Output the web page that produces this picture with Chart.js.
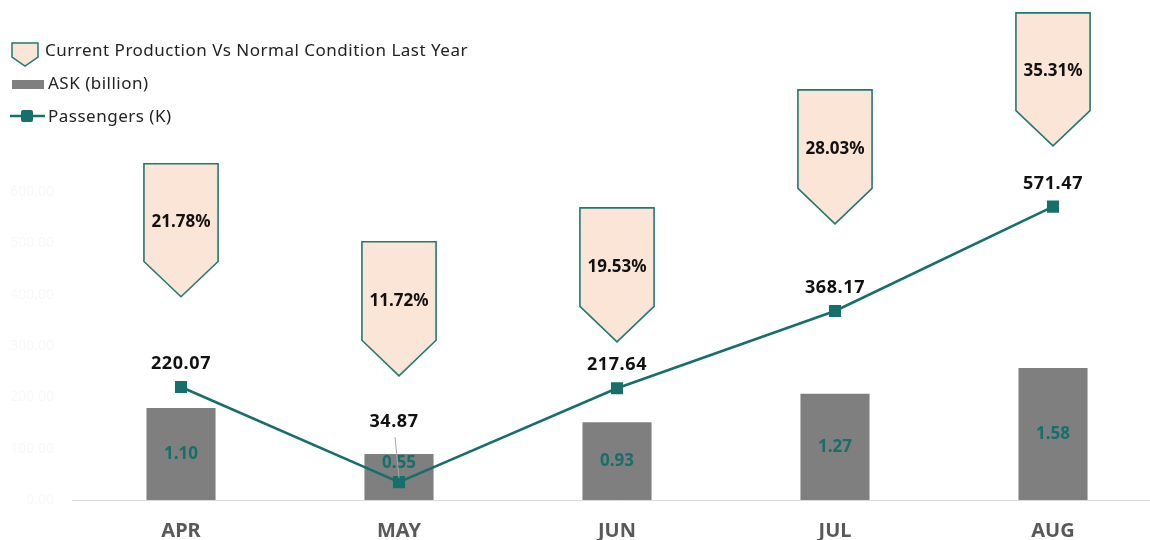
<!DOCTYPE html>
<html><head><meta charset="utf-8">
<script src="https://cdn.jsdelivr.net/npm/chart.js@4.4.0/dist/chart.umd.min.js"></script>
<style>html,body{margin:0;padding:0;background:#fff;overflow:hidden;}
#c{display:block;}
</style></head><body><canvas id="c" width="1171" height="540" style="width:1171px;height:540px"></canvas>
<script>
// ---- data ----
const months = ['APR', 'MAY', 'JUN', 'JUL', 'AUG'];
const askBillion = [1.10, 0.55, 0.93, 1.27, 1.58];
const passengersK = [220.07, 34.87, 217.64, 368.17, 571.47];
const vsLastYearPct = [21.78, 11.72, 19.53, 28.03, 35.31];
// callout (pentagon) extent, in passenger-axis units, as placed in the original
const calloutTop = [655, 503, 569, 799, 949];
const calloutTip = [396, 242, 308, 538, 690];
const passengerTicks = [0, 100, 200, 300, 400, 500, 600];
const seriesNames = ['Current Production Vs Normal Condition Last Year', 'ASK (billion)', 'Passengers (K)'];

const FONT = '"Noto Sans", sans-serif';
const TEAL = '#166f6a';
const PENT_FILL = '#fbe5d6';
const PENT_STROKE = '#1f7a72';
const BAR_GREY = '#7f7f7f';

function pentagon(ctx, x, top, w, shoulder, tip) {
  ctx.beginPath();
  ctx.moveTo(x - w / 2, top);
  ctx.lineTo(x + w / 2, top);
  ctx.lineTo(x + w / 2, shoulder);
  ctx.lineTo(x, tip);
  ctx.lineTo(x - w / 2, shoulder);
  ctx.closePath();
}

const overlay = {
  id: 'overlay',
  afterDraw(chart) {
    const ctx = chart.ctx;
    ctx.save();
    // callouts
    const cMeta = chart.getDatasetMeta(2);
    cMeta.data.forEach((el, i) => {
      const p = el.getProps(['x', 'y', 'base', 'width'], true);
      const top = Math.min(p.y, p.base), tip = Math.max(p.y, p.base);
      const h = tip - top;
      pentagon(ctx, p.x, top, p.width, top + h * 0.735, tip);
      ctx.fillStyle = PENT_FILL; ctx.fill();
      ctx.lineWidth = 1.6; ctx.strokeStyle = PENT_STROKE; ctx.lineJoin = 'miter'; ctx.stroke();
      ctx.fillStyle = '#111';
      ctx.font = 'bold 17px ' + FONT;
      ctx.textAlign = 'center'; ctx.textBaseline = 'middle';
      ctx.fillText(vsLastYearPct[i].toFixed(2) + '%', p.x, top + h * 0.44);
    });
    // bar labels
    const bMeta = chart.getDatasetMeta(0);
    bMeta.data.forEach((el, i) => {
      const p = el.getProps(['x', 'y', 'base'], true);
      let y = (p.y + p.base) / 2;
      if (i === 1) y -= 14;
      ctx.fillStyle = TEAL;
      ctx.font = 'bold 17px ' + FONT;
      ctx.textAlign = 'center'; ctx.textBaseline = 'middle';
      ctx.fillText(askBillion[i].toFixed(2), p.x, y);
    });
    // line labels
    const lMeta = chart.getDatasetMeta(1);
    if ('letterSpacing' in ctx) ctx.letterSpacing = '0.6px';
    lMeta.data.forEach((el, i) => {
      const p = el.getProps(['x', 'y'], true);
      let lx = p.x, ly = p.y - 23;
      if (i === 1) {
        lx = p.x - 5; ly = p.y - 60;
        ctx.beginPath();
        ctx.moveTo(lx + 1, ly + 15);
        ctx.lineTo(p.x, p.y - 4);
        ctx.lineWidth = 1; ctx.strokeStyle = '#a6a6a6'; ctx.stroke();
      }
      ctx.fillStyle = '#111';
      ctx.font = 'bold 18px ' + FONT;
      ctx.textAlign = 'center'; ctx.textBaseline = 'middle';
      ctx.fillText(passengersK[i].toFixed(2), lx, ly);
    });
    // legend
    if ('letterSpacing' in ctx) ctx.letterSpacing = '0.5px';
    ctx.font = '17px ' + FONT;
    ctx.textAlign = 'left'; ctx.textBaseline = 'middle';
    pentagon(ctx, 25, 43, 26, 57, 66);
    ctx.fillStyle = PENT_FILL; ctx.fill();
    ctx.lineWidth = 1.5; ctx.strokeStyle = PENT_STROKE; ctx.stroke();
    ctx.fillStyle = '#222';
    ctx.fillText(seriesNames[0], 45, 51);
    ctx.fillStyle = BAR_GREY;
    ctx.fillRect(12, 80, 32, 9);
    ctx.fillStyle = '#222';
    ctx.fillText(seriesNames[1], 48, 84);
    ctx.beginPath(); ctx.moveTo(10, 116); ctx.lineTo(45, 116);
    ctx.lineWidth = 2.5; ctx.strokeStyle = TEAL; ctx.stroke();
    ctx.fillStyle = TEAL;
    ctx.beginPath();
    if (ctx.roundRect) ctx.roundRect(21, 110, 12, 12, 2); else ctx.rect(21, 110, 12, 12);
    ctx.fill();
    ctx.fillStyle = '#222';
    ctx.fillText(seriesNames[2], 48, 117);
    ctx.restore();
  }
};

new Chart(document.getElementById('c'), {
  data: {
    labels: months,
    datasets: [
      {
        type: 'bar', label: seriesNames[1], data: askBillion, yAxisID: 'y1',
        backgroundColor: BAR_GREY, barPercentage: 0.317, categoryPercentage: 1,
        grouped: false, order: 3
      },
      {
        type: 'line', label: seriesNames[2], data: passengersK, yAxisID: 'y',
        borderColor: TEAL, borderWidth: 2.6, pointStyle: 'rect', pointRadius: 7.5,
        pointBackgroundColor: TEAL, pointBorderColor: TEAL, pointBorderWidth: 1.5,
        tension: 0, order: 1
      },
      {
        type: 'bar', label: seriesNames[0],
        data: calloutTip.map((t, i) => [t, calloutTop[i]]), yAxisID: 'y',
        backgroundColor: 'rgba(0,0,0,0)', barPercentage: 0.34, categoryPercentage: 1,
        grouped: false, order: 2
      }
    ]
  },
  options: {
    responsive: false, maintainAspectRatio: false, animation: false, devicePixelRatio: 1,
    layout: { padding: { top: 192, left: 0, right: 0, bottom: 0 } },
    plugins: { legend: { display: false }, tooltip: { enabled: false } },
    scales: {
      x: {
        grid: { display: false, drawTicks: false },
        border: { display: true, color: '#d9d9d9', width: 1 },
        ticks: { color: '#595959', font: { family: FONT, size: 20, weight: 'bold' }, padding: 19 },
        afterFit(s) { s.height = 40; s.paddingLeft = 0; s.paddingRight = 0; }
      },
      y: {
        min: 0, max: 600,
        afterBuildTicks(s) { s.ticks = passengerTicks.map(v => ({ value: v })); },
        grid: { display: false, drawTicks: false },
        border: { display: false },
        ticks: { color: '#f8f8f8', font: { family: FONT, size: 14 }, padding: 18,
                 callback: v => Number(v).toFixed(2) },
        afterFit(s) { s.width = 72; s.paddingTop = 0; s.paddingBottom = 0; }
      },
      y1: { display: false, min: 0, max: 3.684 }
    }
  },
  plugins: [overlay]
});
</script></body></html>
